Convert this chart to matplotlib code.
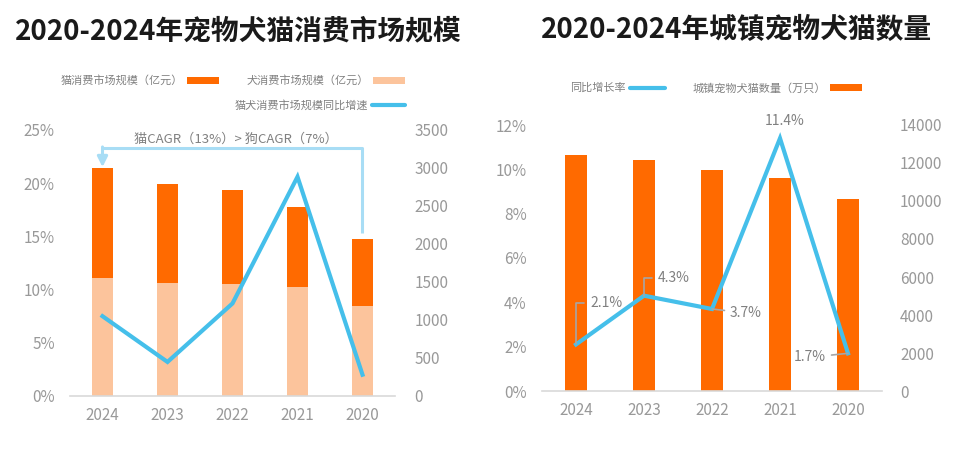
import matplotlib
matplotlib.use("Agg")
import matplotlib.pyplot as plt
from matplotlib.patches import Rectangle
from matplotlib.lines import Line2D
import numpy as np

plt.rcParams['font.family'] = ['Noto Sans CJK SC', 'DejaVu Sans']

# ---------------- data ----------------
years = ['2020', '2021', '2022', '2023', '2024']
dog_market = [1181, 1430, 1475, 1488, 1557]      # 亿元
cat_market = [884, 1060, 1231, 1305, 1445]       # 亿元
market_growth = [2.0, 20.6, 8.7, 3.2, 7.5]       # %
pet_count = [10084, 11235, 11655, 12155, 12411]  # 万只
count_growth = [1.7, 11.4, 3.7, 4.3, 2.1]        # %

left_title = '2020-2024年宠物犬猫消费市场规模'
right_title = '2020-2024年城镇宠物犬猫数量'
lbl_dog = '犬消费市场规模（亿元）'
lbl_cat = '猫消费市场规模（亿元）'
lbl_mgrowth = '猫犬消费市场规模同比增速'
lbl_count = '城镇宠物犬猫数量（万只）'
lbl_cgrowth = '同比增长率'
cagr_text = '猫CAGR（13%）> 狗CAGR（7%）'

# ---------------- style ----------------
C_DARK = '#FF6A00'
C_LIGHT = '#FCC49C'
C_BLUE = '#45BFEA'
C_ARROW = '#A8DDF5'
C_TICK = '#999999'
C_TXT = '#808080'
C_AXIS = '#D9D9D9'

W, H = 970, 449
fig = plt.figure(figsize=(W / 100, H / 100), dpi=100)

def fx(px):
    return px / W

def fy(py):
    return 1 - py / H

x = np.arange(len(years))

def style_axes(ax, ax2):
    for a in (ax, ax2):
        for s in a.spines.values():
            s.set_visible(False)
    ax.spines['bottom'].set_visible(True)
    ax.spines['bottom'].set_color(C_AXIS)
    ax.spines['bottom'].set_linewidth(1.2)
    ax.set_xlim(len(years) - 0.5, -0.5)  # mirrored order as in reference
    ax.set_xticks(x)
    ax.set_xticklabels(years)
    ax.tick_params(axis='x', length=0, pad=8, labelsize=11, labelcolor=C_TICK)
    ax.yaxis.tick_right()
    ax2.yaxis.tick_left()

# ================= LEFT CHART =================
axL = fig.add_axes([fx(70), fy(396), fx(325), 266 / H])
axL2 = axL.twinx()
axL.set_zorder(1)
axL2.set_zorder(2)
axL2.patch.set_visible(False)

axL.bar(x, dog_market, width=0.31, color=C_LIGHT, zorder=2)
axL.bar(x, cat_market, bottom=dog_market, width=0.31, color=C_DARK, zorder=2)
axL.set_ylim(0, 3500)
axL.set_yticks(np.arange(0, 3501, 500))
axL.tick_params(axis='y', length=0, pad=14, labelsize=11, labelcolor=C_TICK)

axL2.plot(x, market_growth, color=C_BLUE, lw=3, solid_joinstyle='miter')
axL2.set_ylim(0, 25)
axL2.set_yticks(np.arange(0, 26, 5))
axL2.set_yticklabels([f'{v}%' for v in range(0, 26, 5)])
axL2.tick_params(axis='y', length=0, pad=11, labelsize=11, labelcolor=C_TICK)
style_axes(axL, axL2)

# CAGR bracket arrow
totals = [d + c for d, c in zip(dog_market, cat_market)]
y_top = 3265
i0, i1 = 0, len(years) - 1
axL.plot([x[i0], x[i0], x[i1]], [totals[i0] + 80, y_top, y_top], color=C_ARROW, lw=2.2, zorder=3,
         solid_capstyle='butt')
axL.annotate('', xy=(x[i1], totals[i1] + 10), xytext=(x[i1], y_top + 12),
             arrowprops=dict(arrowstyle='-|>,head_length=0.6,head_width=0.3', color=C_ARROW, lw=2.2,
                             shrinkA=0, shrinkB=0), zorder=3)
axL.text(np.mean([x[i0], x[i1]]) - 0.05, y_top + 30, cagr_text, ha='center', va='bottom',
         fontsize=9.5, color=C_TXT, zorder=3)

# ================= RIGHT CHART =================
axR = fig.add_axes([fx(542), fy(391), fx(340), 266 / H])
axR2 = axR.twinx()
axR.set_zorder(1)
axR2.set_zorder(2)
axR2.patch.set_visible(False)

axR.bar(x, pet_count, width=0.31, color=C_DARK, zorder=2)
axR.set_ylim(0, 14000)
axR.set_yticks(np.arange(0, 14001, 2000))
axR.tick_params(axis='y', length=0, pad=13, labelsize=11, labelcolor=C_TICK)

axR2.plot(x, count_growth, color=C_BLUE, lw=3, solid_joinstyle='miter')
axR2.set_ylim(0, 12)
axR2.set_yticks(np.arange(0, 13, 2))
axR2.set_yticklabels([f'{v}%' for v in range(0, 13, 2)])
axR2.tick_params(axis='y', length=0, pad=11, labelsize=11, labelcolor=C_TICK)
style_axes(axR, axR2)

# data labels for growth line
lab_kw = dict(fontsize=10, color=C_TXT, textcoords='offset pixels')
leader = dict(arrowstyle='-', color='#A6A6A6', lw=1.2, shrinkA=2, shrinkB=0)
# 2020
axR2.annotate(f'{count_growth[0]}%', xy=(x[0], count_growth[0]), xytext=(-22, -4),
              ha='right', va='center', arrowprops=leader, **lab_kw)
# 2021
axR2.annotate(f'{count_growth[1]}%', xy=(x[1], count_growth[1]), xytext=(5, 10),
              ha='center', va='bottom', **lab_kw)
# 2022
axR2.annotate(f'{count_growth[2]}%', xy=(x[2], count_growth[2]), xytext=(18, -4),
              ha='left', va='center', arrowprops=leader, **lab_kw)
# 2023
axR2.annotate(f'{count_growth[3]}%', xy=(x[3], count_growth[3]), xytext=(14, 18),
              ha='left', va='center',
              arrowprops=dict(leader, connectionstyle='angle,angleA=0,angleB=90,rad=0'), **lab_kw)
# 2024
axR2.annotate(f'{count_growth[4]}%', xy=(x[4], count_growth[4]), xytext=(14, 41),
              ha='left', va='center',
              arrowprops=dict(leader, connectionstyle='angle,angleA=0,angleB=90,rad=0'), **lab_kw)

# ================= TITLES =================
fig.text(fx(238), fy(31), left_title, ha='center', va='center', fontsize=20,
         fontweight='bold', color='#1a1a1a')
fig.text(fx(737), fy(30), right_title, ha='center', va='center', fontsize=20,
         fontweight='bold', color='#1a1a1a')

# ================= LEGENDS (mirrored: key on right of text) =================
def legend_patch(x0, x1, yc, color, text):
    fig.add_artist(Rectangle((fx(x0), fy(yc + 3.5)), fx(x1 - x0), 7 / H,
                             transform=fig.transFigure, color=color, lw=0))
    fig.text(fx(x0 - 4), fy(yc), text, ha='right', va='center', fontsize=8, color=C_TXT)

def legend_line(x0, x1, yc, color, text):
    fig.add_artist(Line2D([fx(x0), fx(x1)], [fy(yc), fy(yc)], transform=fig.transFigure,
                          color=color, lw=3, solid_capstyle='round'))
    fig.text(fx(x0 - 4), fy(yc), text, ha='right', va='center', fontsize=8, color=C_TXT)

legend_patch(373, 405, 80, C_LIGHT, lbl_dog)
legend_patch(187, 219, 80, C_DARK, lbl_cat)
legend_line(372, 405, 105, C_BLUE, lbl_mgrowth)

legend_patch(830, 862, 88, C_DARK, lbl_count)
legend_line(630, 665, 88, C_BLUE, lbl_cgrowth)

fig.savefig('out.png', dpi=100)
